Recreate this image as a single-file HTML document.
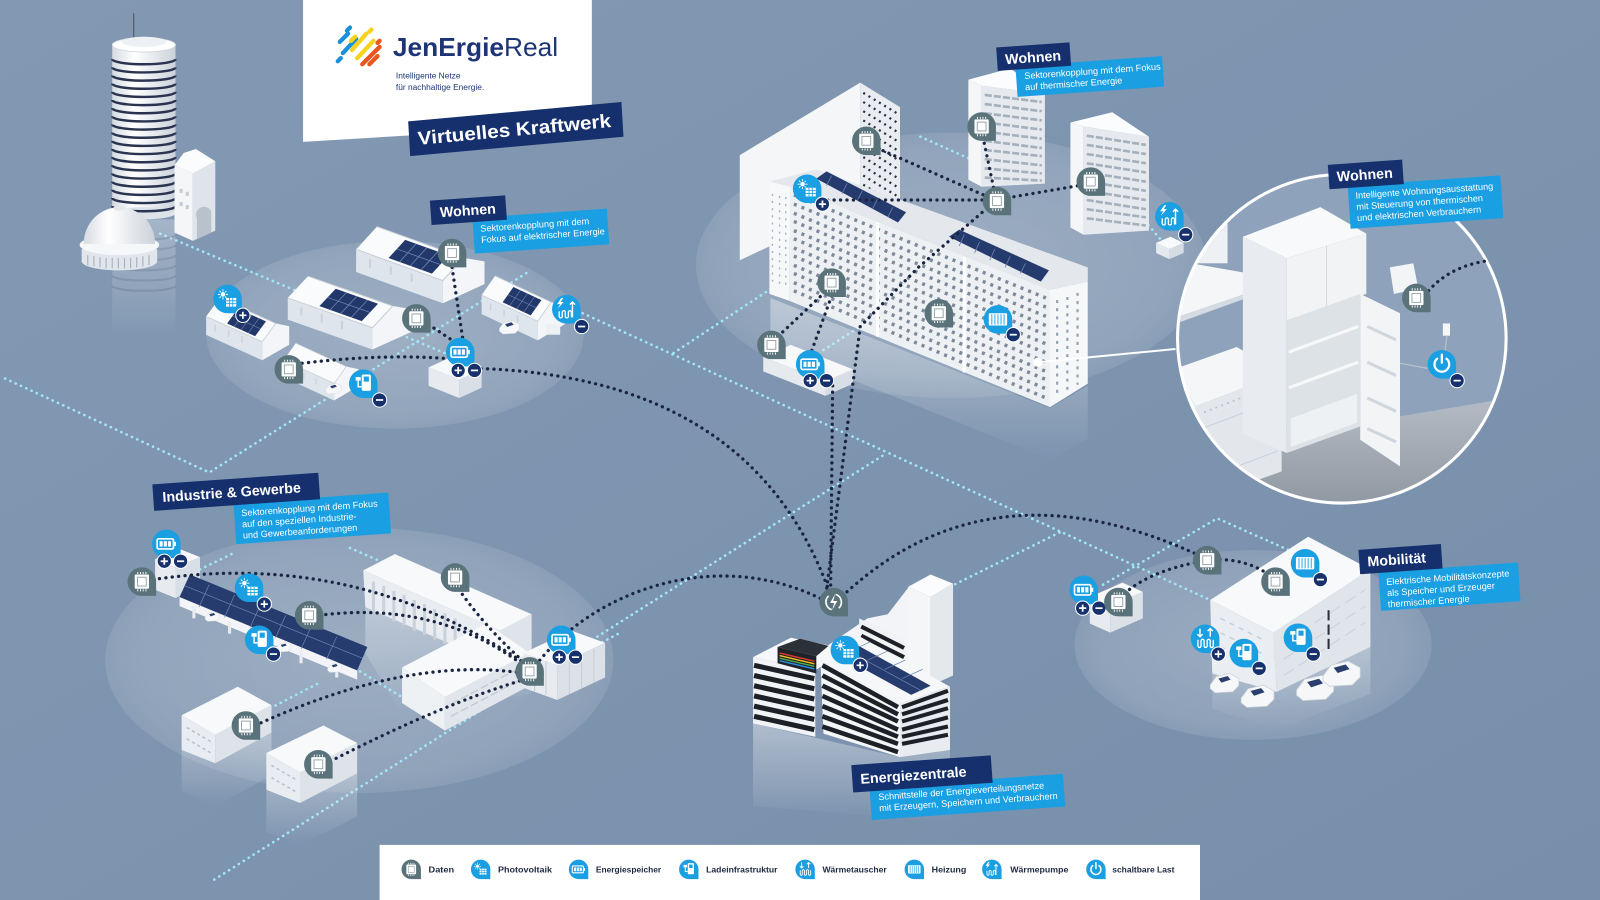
<!DOCTYPE html>
<html><head><meta charset="utf-8"><title>Virtuelles Kraftwerk</title>
<style>
html,body{margin:0;padding:0;background:#7f95b0;}
svg{display:block;}
text{font-family:"Liberation Sans",Arial,sans-serif;}
.nt{fill:#fff;font-weight:bold;font-size:14px;}
.bt{fill:#fff;font-size:9px;}
.lg{fill:#1c2740;font-size:8.4px;font-weight:bold;}
.cy{fill:none;stroke:#a2e6f8;stroke-width:2.6;stroke-dasharray:0.1 5.6;stroke-linecap:round;}
.dk{fill:none;stroke:#1a2542;stroke-width:3.2;stroke-dasharray:0.1 6.2;stroke-linecap:round;}
</style></head>
<body>
<svg width="1600" height="900" viewBox="0 0 1568 882" preserveAspectRatio="none" xmlns="http://www.w3.org/2000/svg">
<defs>
 <linearGradient id="bg" x1="0" y1="0" x2="1" y2="1">
  <stop offset="0" stop-color="#8399b3"/><stop offset="1" stop-color="#788fab"/>
 </linearGradient>
 <radialGradient id="plat" cx="0.5" cy="0.5" r="0.5">
  <stop offset="0" stop-color="#fff" stop-opacity="0.24"/>
  <stop offset="0.85" stop-color="#fff" stop-opacity="0.15"/>
  <stop offset="1" stop-color="#fff" stop-opacity="0.10"/>
 </radialGradient>
 <linearGradient id="refl" x1="0" y1="0" x2="0" y2="1">
  <stop offset="0" stop-color="#eef1f4" stop-opacity="0.75"/>
  <stop offset="1" stop-color="#eef1f4" stop-opacity="0"/>
 </linearGradient>
 <linearGradient id="tw" x1="0" x2="1">
  <stop offset="0" stop-color="#d6dbe2"/><stop offset="0.35" stop-color="#ffffff"/><stop offset="1" stop-color="#cbd2da"/>
 </linearGradient>
 <linearGradient id="floor" x1="0" y1="0" x2="0" y2="1">
  <stop offset="0" stop-color="#b4bbc4"/><stop offset="1" stop-color="#8e96a0"/>
 </linearGradient>
 <clipPath id="cc"><circle cx="1315" cy="332" r="161"/></clipPath>

 <path id="pinshape" d="M-14,0 A14,14 0 0 1 14,0 L14,14 L0,14 A14,14 0 0 1 -14,0 Z"/>
 <g id="pinB"><use href="#pinshape" fill="#1a9fe2"/></g>
 <g id="dat">
  <use href="#pinshape" fill="#5a737b"/>
  <rect x="-7" y="-7" width="14" height="14" fill="#fff" rx="1"/>
  <rect x="-4.3" y="-4.3" width="8.6" height="8.6" fill="none" stroke="#8da0a6" stroke-width="0.9"/>
  <path d="M-4,-9.5v2M-1.3,-9.5v2M1.3,-9.5v2M4,-9.5v2M-4,7.5v2M-1.3,7.5v2M1.3,7.5v2M4,7.5v2" stroke="#fff" stroke-width="0.9"/>
 </g>
 <g id="g-pv">
  <circle cx="-4.5" cy="-4.5" r="2.2" fill="#fff"/>
  <path d="M-4.5,-9.5v2.2M-4.5,-1.8v2.2M-9.5,-4.5h2.2M-1.8,-4.5h2.2M-8,-8l1.5,1.5M-2.5,-2.5l1.3,1.3M-8,-1l1.5,-1.5M-2.5,-6.5l1.3,-1.3" stroke="#fff" stroke-width="0.9"/>
  <rect x="-1.5" y="-1" width="10" height="8.5" fill="#fff"/>
  <path d="M1.8,-1v8.5M5.1,-1v8.5M-1.5,1.8h10M-1.5,4.6h10" stroke="#1a9fe2" stroke-width="0.8"/>
 </g>
 <g id="g-bat">
  <rect x="-9" y="-5" width="16" height="10" rx="1.5" fill="none" stroke="#fff" stroke-width="1.6"/>
  <rect x="7.4" y="-2" width="2" height="4" fill="#fff"/>
  <rect x="-6.6" y="-2.6" width="3" height="5.2" fill="#fff"/>
  <rect x="-2.5" y="-2.6" width="3" height="5.2" fill="#fff"/>
  <rect x="1.6" y="-2.6" width="3" height="5.2" fill="#fff"/>
 </g>
 <g id="g-chg">
  <rect x="-1.5" y="-9" width="9" height="16" rx="1.5" fill="#fff"/>
  <rect x="0.5" y="-7" width="5" height="5" fill="#1a9fe2"/>
  <path d="M-1.5,3 H-5 V-3" fill="none" stroke="#fff" stroke-width="1.4"/>
  <path d="M-7.5,-6.5 h5 v3.5 h-5z" fill="#fff"/>
 </g>
 <g id="g-hx">
  <path d="M-5,-10v8M-7.5,-4.5l2.5,2.5l2.5,-2.5M5,-2v-8M2.5,-7.5l2.5,-2.5l2.5,2.5" stroke="#fff" stroke-width="1.4" fill="none"/>
  <path d="M-7,1v6a1.5,1.5 0 0 0 3,0v-5a1.5,1.5 0 0 1 3,0v5a1.5,1.5 0 0 0 3,0v-5a1.5,1.5 0 0 1 3,0v5a1.5,1.5 0 0 0 3,0v-6" stroke="#fff" stroke-width="1.3" fill="none"/>
 </g>
 <g id="g-heat">
  <rect x="-9" y="-6" width="18" height="12" rx="1" fill="#fff"/>
  <path d="M-6,-5v10M-3,-5v10M0,-5v10M3,-5v10M6,-5v10" stroke="#1a9fe2" stroke-width="0.9"/>
 </g>
 <g id="g-hp">
  <path d="M-5,-11 l-4,6 h3 l-2.5,4.5 l6,-6.5 h-3 l2.5,-4z" fill="#fff"/>
  <path d="M-7,2v5a1.5,1.5 0 0 0 3,0v-4a1.5,1.5 0 0 1 3,0v4a1.5,1.5 0 0 0 3,0v-4a1.5,1.5 0 0 1 3,0v5" stroke="#fff" stroke-width="1.3" fill="none"/>
  <path d="M6,8v-15M3.5,-4.5l2.5,-2.5l2.5,2.5" stroke="#fff" stroke-width="1.4" fill="none"/>
 </g>
 <g id="g-pow">
  <path d="M-4.5,-5.5 A7.2,7.2 0 1 0 4.5,-5.5" fill="none" stroke="#fff" stroke-width="2.2" stroke-linecap="round"/>
  <path d="M0,-9.5v8" stroke="#fff" stroke-width="2.2" stroke-linecap="round"/>
 </g>
 <g id="plus"><circle r="7" fill="#17316d" stroke="#fff" stroke-width="1"/><path d="M-3.5,0h7M0,-3.5v7" stroke="#fff" stroke-width="1.7"/></g>
 <g id="minus"><circle r="7" fill="#17316d" stroke="#fff" stroke-width="1"/><path d="M-3.5,0h7" stroke="#fff" stroke-width="1.7"/></g>

 <g id="house">
  <polygon points="0,24 50,46 50,62 0,40" fill="#dfe5ec"/>
  <polygon points="50,62 50,46 62,30 74,32.5 74,48.5" fill="#f3f5f8"/>
  <polygon points="12,8 62,30 50,46 0,24" fill="#fafbfc"/>
  <path d="M12,8 L62,30 M0,24 L50,46 L62,30" stroke="#c6cdd6" stroke-width="0.7" fill="none"/>
  <path d="M8,37v-6M20,42v-6M32,47v-6" stroke="#cbd2db" stroke-width="1.2"/>
 </g>
 <g id="hpanel">
  <polygon points="18.7,30.1 43.7,41.1 53.3,28.3 28.3,17.3" fill="#22386a"/>
  <path d="M31.2,35.6 L40.8,22.8 M23.5,23.7 L48.5,34.7 M25,32.9 L34.6,20.1 M37.5,38.4 L47.1,25.6" stroke="#6a80ad" stroke-width="0.55"/>
 </g>
 <g id="car">
  <path d="M2,14 L8,6 L21,3 L30,8 L30,15 L24,21 L7,22 L2,18Z" fill="#f5f7f9" stroke="#c9d0d8" stroke-width="0.6"/>
  <polygon points="10,8 19,5.5 22,9 13,12" fill="#2b3f6f"/>
 </g>
</defs>

<!-- background -->
<rect width="1568" height="882" fill="url(#bg)"/>

<!-- platforms -->
<ellipse cx="387" cy="328" rx="185" ry="92" fill="url(#plat)"/>
<ellipse cx="932" cy="260" rx="250" ry="130" fill="url(#plat)"/>
<ellipse cx="352" cy="647" rx="249" ry="130" fill="url(#plat)"/>
<ellipse cx="1228" cy="632" rx="175" ry="93" fill="url(#plat)"/>

<!-- cyan floor lines -->
<path class="cy" d="M5,371 L205,463 L520,265"/>
<path class="cy" d="M157,229 L450,352"/>
<path class="cy" d="M571,307 L1186,588"/>
<path class="cy" d="M660,346 L760,280"/>
<path class="cy" d="M807,343 L843,320"/>
<path class="cy" d="M210,862 L869,444"/>
<path class="cy" d="M931,575 L1040,521"/>
<path class="cy" d="M196,558 L229,542 M343,537 L384,555 M353,658 L392,682 M265,694 L315,668 M585,632 L608,620"/>
<path class="cy" d="M1081,573 L1193,508 L1265,540"/>
<path class="cy" d="M902,134 L951,156 M1118,212 L1142,240"/>

<!-- ===== Jena tower, dome, gate ===== -->
<rect x="110" y="215" width="62" height="115" fill="url(#refl)" opacity="0.45"/>
<path d="M110,230A31,5 0 0 0 172,230M110,240A31,5 0 0 0 172,240M110,250A31,5 0 0 0 172,250M110,260A31,5 0 0 0 172,260M110,270A31,5 0 0 0 172,270M110,280A31,5 0 0 0 172,280" stroke="#2a3450" stroke-width="2" fill="none" opacity="0.15"/>
<line x1="131" y1="13" x2="131" y2="40" stroke="#5a6270" stroke-width="1.3"/>
<rect x="110" y="44" width="62" height="165" fill="url(#tw)"/>
<ellipse cx="141" cy="209" rx="31" ry="6" fill="#dde2e8"/>
<path d="M110,58A31,5 0 0 0 172,58M110,66A31,5 0 0 0 172,66M110,74A31,5 0 0 0 172,74M110,82A31,5 0 0 0 172,82M110,90A31,5 0 0 0 172,90M110,98A31,5 0 0 0 172,98M110,106A31,5 0 0 0 172,106M110,114A31,5 0 0 0 172,114M110,122A31,5 0 0 0 172,122M110,130A31,5 0 0 0 172,130M110,138A31,5 0 0 0 172,138M110,146A31,5 0 0 0 172,146M110,154A31,5 0 0 0 172,154M110,162A31,5 0 0 0 172,162M110,170A31,5 0 0 0 172,170M110,178A31,5 0 0 0 172,178M110,186A31,5 0 0 0 172,186M110,194A31,5 0 0 0 172,194M110,202A31,5 0 0 0 172,202" stroke="#2a3450" stroke-width="2.4" fill="none"/>
<ellipse cx="141" cy="44" rx="31" ry="7" fill="#fff" stroke="#d2d8df" stroke-width="0.8"/>
<ellipse cx="141" cy="41" rx="22" ry="5" fill="#eef1f4"/>
<!-- gate tower -->
<polygon points="171,162 189,170 189,236 171,228" fill="#f4f6f8"/>
<polygon points="189,170 211,158 211,226 189,236" fill="#dfe4ea"/>
<polygon points="171,162 180,150 192,146 211,158 189,170" fill="#fbfcfd"/>
<path d="M193,234 L193,214 A7,7 0 0 1 207,207 L207,228Z" fill="#b9c2cc"/>
<rect x="176" y="185" width="3" height="4" fill="#c5ccd5"/><rect x="182" y="188" width="3" height="4" fill="#c5ccd5"/>
<rect x="176" y="198" width="3" height="4" fill="#c5ccd5"/><rect x="182" y="201" width="3" height="4" fill="#c5ccd5"/>
<!-- dome -->
<path d="M80,244 L80,256 A37,9 0 0 0 154,256 L154,244 Z" fill="#e1e6ec"/>
<path d="M86,250v10M92,251v10M98,252v10M104,253v10M110,253v10M116,253v10M122,253v10M128,253v10M134,252v10M140,251v10M146,250v10" stroke="#aab4c0" stroke-width="1.2"/>
<ellipse cx="117" cy="240" rx="39" ry="10" fill="#f5f7f9"/>
<path d="M82,239 A35,36 0 0 1 152,239 Z" fill="url(#tw)"/>
<ellipse cx="117" cy="204" rx="6" ry="2.5" fill="#e3e8ed"/>

<!-- ===== logo box ===== -->
<polygon points="297,0 580,0 580,122 297,139" fill="#ffffff"/>
<g stroke-linecap="round" stroke-width="4.2" fill="none">
 <path d="M333,41 L341,33 M336,52 L349,38 M331,60 L334,57" stroke="#1b8fd8"/>
 <path d="M345,49 L359,33 M350,57 L366,40 M344,40 L348,36 M362,31 L364,29" stroke="#f6d21d"/>
 <path d="M355,63 L372,46 M362,63 L370,55 M370,42 L372,40" stroke="#e8571f"/>
 <path d="M340,30 L343,27" stroke="#1b8fd8"/>
</g>
<text x="385" y="55" font-size="25" fill="#1d3576" textLength="162" lengthAdjust="spacingAndGlyphs"><tspan font-weight="bold">JenErgie</tspan><tspan>Real</tspan></text>
<text x="388" y="77" font-size="8.2" fill="#1d3576">Intelligente Netze</text>
<text x="388" y="88" font-size="8.2" fill="#1d3576">für nachhaltige Energie.</text>
<polygon points="400,119 609,100 611,134 402,153" fill="#16306e"/>
<text x="410" y="142" font-size="18.5" font-weight="bold" fill="#fff" transform="rotate(-5.3 410 142)" textLength="190" lengthAdjust="spacingAndGlyphs">Virtuelles Kraftwerk</text>

<!-- ===== houses cluster ===== -->
<g transform="translate(349,211) scale(1.7,1.39)"><use href="#house"/><use href="#hpanel"/></g>
<g transform="translate(282,260) scale(1.66,1.33)"><use href="#house"/><use href="#hpanel"/></g>
<g transform="translate(202,283) scale(1.1,1.13)"><use href="#house"/><use href="#hpanel"/></g>
<g transform="translate(472,261) scale(1.1,1.17)"><use href="#house"/><use href="#hpanel"/></g>
<g transform="translate(278,328) scale(0.99,1.04)"><use href="#house"/></g>
<polygon points="420,360 442,350 472,362 450,372" fill="#f6f8fa"/>
<polygon points="420,360 450,372 450,390 420,378" fill="#e7ebf0"/>
<polygon points="450,372 472,362 472,380 450,390" fill="#d9dfe6"/>
<g transform="translate(488,312) scale(0.7)"><use href="#car"/></g>
<g transform="translate(318,374) scale(0.55)"><use href="#car"/></g>
<rect x="535" y="318" width="14" height="10" fill="#eef1f4"/>

<!-- ===== big residential complex ===== -->
<polygon points="755,292 1029,400 1066,378 1066,430 1029,450 755,340" fill="url(#refl)" opacity="0.6"/>
<polygon points="725,152 843,81 843,200 725,255" fill="#f4f6f8"/>
<polygon points="843,81 882,105 882,215 843,195" fill="#e9edf1"/>
<path d="M846,91L879,111M846,100L879,120M846,109L879,129M846,118L879,138M846,127L879,147M846,136L879,156M846,145L879,165M846,154L879,174M846,163L879,183M846,172L879,192M846,181L879,201" stroke="#2c313b" stroke-width="2.2" stroke-dasharray="2 4"/>
<!-- towers right -->
<polygon points="949,78 962,84 962,183 949,176" fill="#f4f6f8"/>
<polygon points="962,84 1024,92 1024,180 962,183" fill="#e6eaef"/>
<polygon points="949,78 990,67 1024,92 962,84" fill="#fbfcfd"/>
<path d="M965,93L1021,100M965,102L1021,109M965,111L1021,118M965,120L1021,127M965,129L1021,136M965,138L1021,145M965,147L1021,153M965,156L1021,162M965,165L1021,170M965,174L1021,177" stroke="#a5b0bd" stroke-width="2.6" stroke-dasharray="7 2"/>
<polygon points="1049,120 1062,124 1062,230 1049,223" fill="#f4f6f8"/>
<polygon points="1062,124 1126,134 1126,226 1062,230" fill="#e6eaef"/>
<polygon points="1049,120 1090,110 1126,134 1062,124" fill="#fbfcfd"/>
<path d="M1065,133L1123,142M1065,142L1123,151M1065,151L1123,160M1065,160L1123,169M1065,169L1123,178M1065,178L1123,187M1065,187L1123,196M1065,196L1123,205M1065,205L1123,213M1065,214L1123,221" stroke="#a5b0bd" stroke-width="2.6" stroke-dasharray="7 2"/>
<polygon points="1133,238 1147,232 1160,238 1146,244" fill="#f7f9fa"/>
<polygon points="1133,238 1146,244 1146,254 1133,248" fill="#e4e9ee"/>
<polygon points="1146,244 1160,238 1160,248 1146,254" fill="#d6dce3"/>
<!-- slab -->
<polygon points="754,178 800,166 1066,262 1066,276 1029,284 774,183" fill="#e4e8ed"/>
<polygon points="754,178 774,183 774,295 754,288" fill="#f7f8fa"/>
<polygon points="774,183 1029,284 1029,399 774,295" fill="#eef1f4"/>
<polygon points="1029,284 1066,276 1066,376 1029,399" fill="#f6f7f9"/>
<path d="M778,191L1025,292M778,200L1025,301M778,209L1025,310M778,217L1025,319M778,226L1025,328M778,234L1025,337M778,243L1025,346M778,251L1025,355M778,260L1025,364M778,268L1025,372M778,277L1025,381M778,285L1025,390" stroke="#7f8a98" stroke-width="3.4" stroke-dasharray="3 5"/>
<path d="M757,190v90M764,192v90M770,193v90" stroke="#a9b2bd" stroke-width="1.4" stroke-dasharray="2 5"/>
<path d="M1036,294v95M1046,291v92M1056,287v90" stroke="#9aa4b0" stroke-width="2.2" stroke-dasharray="3 5"/>
<path d="M860,218v112M945,252v113" stroke="#ffffff" stroke-width="3"/>
<polygon points="800,175 810,168 888,208 880,218" fill="#253b6d"/>
<polygon points="930,232 940,225 1028,265 1020,276" fill="#253b6d"/>
<path d="M815,172L810,182M830,180L825,190M845,187L840,197M860,195L855,205M875,203L870,213M945,230L940,241M960,237L955,248M975,244L970,255M990,251L985,262M1005,258L1000,268" stroke="#6b81ae" stroke-width="0.8"/>
<!-- small battery unit -->
<polygon points="748,350 775,338 836,362 809,374" fill="#f6f8fa"/>
<polygon points="748,350 809,374 809,388 748,364" fill="#e6eaef"/>
<polygon points="809,374 836,362 836,376 809,388" fill="#d8dee5"/>
<!-- connector to circle -->
<line x1="1017" y1="355" x2="1152" y2="342" stroke="#fff" stroke-width="2"/>
<circle cx="1017" cy="355" r="4.5" fill="#fff"/>

<!-- ===== right circle (kitchen) ===== -->
<g clip-path="url(#cc)">
 <rect x="1150" y="168" width="330" height="330" fill="#8ea3bb"/>
 <polygon points="1150,440 1300,420 1480,390 1480,500 1150,500" fill="url(#floor)"/>
 <rect x="1163" y="168" width="40" height="90" fill="#eef1f4"/>
 <polygon points="1150,255 1241,271 1241,281 1150,312" fill="#f4f6f8"/>
 <polygon points="1150,312 1241,281 1241,285 1150,318" fill="#d5dbe2"/>
 <polygon points="1150,362 1212,340 1256,366 1172,398" fill="#f5f6f8"/>
 <polygon points="1172,398 1256,366 1256,462 1172,492" fill="#e3e7eb"/>
 <polygon points="1150,362 1172,398 1172,492 1150,470" fill="#eef1f4"/>
 <path d="M1180,404L1250,377" stroke="#b9c1ca" stroke-width="1.6" stroke-dasharray="2 4"/>
 <path d="M1178,420L1252,392M1178,470L1252,442" stroke="#c8cfd7" stroke-width="1"/>
 <polygon points="1218,232 1261,253 1261,444 1218,425" fill="#e8ebef"/>
 <polygon points="1218,232 1294,203 1339,229 1261,253" fill="#f8f9fa"/>
 <polygon points="1261,253 1339,229 1339,288 1261,314" fill="#f1f3f5"/>
 <line x1="1300" y1="241" x2="1300" y2="301" stroke="#d3d9df" stroke-width="1"/>
 <polygon points="1261,314 1333,288 1333,418 1261,444" fill="#dde2e7"/>
 <path d="M1263,345L1331,320M1263,380L1331,355" stroke="#f7f8fa" stroke-width="3"/>
 <polygon points="1265,410 1330,386 1330,414 1265,438" fill="#eef1f4"/>
 <polygon points="1333,288 1372,307 1372,457 1333,431" fill="#f2f4f6"/>
 <path d="M1340,320L1368,333M1340,355L1368,368M1340,390L1368,403M1340,420L1368,433" stroke="#d0d6dd" stroke-width="3"/>
 <polygon points="1362,262 1385,258 1390,283 1366,288" fill="#f2f4f6"/>
 <rect x="1414" y="317" width="7" height="12" fill="#f4f6f8"/>
 <path d="M1418,329 L1416,345 M1372,356 L1399,361" stroke="#b7c0ca" stroke-width="1.2" fill="none"/>
</g>
<circle cx="1315" cy="332" r="161" fill="none" stroke="#fff" stroke-width="3"/>

<!-- ===== industry ===== -->
<polygon points="358,595 490,650 521,636 521,680 394,700 358,640" fill="url(#refl)" opacity="0.55"/>
<polygon points="152,548 176,538 196,546 172,556" fill="#f7f9fa"/>
<polygon points="152,548 172,556 172,586 152,578" fill="#e7ebf0"/>
<polygon points="172,556 196,546 196,576 172,586" fill="#d9dfe6"/>
<polygon points="176,585 350,657 350,666 176,594" fill="#f2f4f7"/>
<path d="M190,594v12M225,609v12M260,623v12M295,638v12M330,652v12" stroke="#e9edf1" stroke-width="3"/>
<polygon points="186,563 360,634 350,657 176,585" fill="#263c6e"/>
<path d="M181,574L355,645M205,573L195,595M230,583L220,605M255,593L245,615M280,603L270,625M305,614L295,636M330,624L320,646" stroke="#6e84b0" stroke-width="0.7"/>
<g transform="translate(200,598) scale(0.5)"><use href="#car"/></g>
<g transform="translate(270,628) scale(0.5)"><use href="#car"/></g>
<g transform="translate(320,648) scale(0.5)"><use href="#car"/></g>
<polygon points="356,559 387,543 521,602 490,618" fill="#f8f9fb"/>
<polygon points="356,559 490,618 490,652 358,595" fill="#e9edf1"/>
<path d="M366,570v30M376,574v30M386,579v30M396,583v30M406,588v30M416,592v30M426,597v30M436,601v30M446,606v30" stroke="#c9d1da" stroke-width="3"/>
<polygon points="490,618 521,602 521,636 490,652" fill="#dfe4ea"/>
<polygon points="394,654 477,611 519,640 436,683" fill="#f8f9fb"/>
<polygon points="394,654 436,683 436,716 394,689" fill="#eef1f4"/>
<polygon points="436,683 519,640 519,672 436,716" fill="#e1e6ec"/>
<path d="M442,690L514,652M442,702L514,664" stroke="#c4ccd6" stroke-width="1.5" stroke-dasharray="8 3"/>
<polygon points="513,640 560,618 593,630 546,652" fill="#f7f9fa"/>
<polygon points="513,640 546,652 546,686 513,674" fill="#e7ebf0"/>
<polygon points="546,652 593,630 593,664 546,686" fill="#dbe1e7"/>
<path d="M558,647v33M570,641v33M582,636v33M524,644v33M535,648v33" stroke="#c5cdd6" stroke-width="1"/>
<polygon points="178,735 211,748 266,718 266,760 211,790 178,775" fill="url(#refl)" opacity="0.5"/>
<polygon points="178,701 233,673 266,691 211,720" fill="#f8f9fb"/>
<polygon points="178,701 211,720 211,748 178,735" fill="#e9edf1"/>
<polygon points="211,720 266,691 266,718 211,748" fill="#dde3e9"/>
<path d="M183,713L207,727M183,724L207,738" stroke="#b7c0cb" stroke-width="1.5" stroke-dasharray="3 3"/>
<polygon points="261,774 294,787 350,758 350,800 294,828 261,815" fill="url(#refl)" opacity="0.5"/>
<polygon points="261,738 317,711 350,728 294,757" fill="#f8f9fb"/>
<polygon points="261,738 294,757 294,787 261,774" fill="#e9edf1"/>
<polygon points="294,757 350,728 350,758 294,787" fill="#dde3e9"/>
<path d="M266,750L290,764M266,762L290,776" stroke="#b7c0cb" stroke-width="1.5" stroke-dasharray="3 3"/>

<!-- ===== Energiezentrale ===== -->
<polygon points="738,709 882,742 931,735 931,805 738,790" fill="url(#refl)" opacity="0.6"/>
<polygon points="812,632 850,606 870,602 890,576 912,585 912,700 812,700" fill="#f2f4f7"/>
<polygon points="890,575 912,563 934,572 912,585" fill="#fbfcfd"/>
<polygon points="890,575 912,585 912,672 890,662" fill="#f4f6f8"/>
<polygon points="912,585 934,572 934,662 912,672" fill="#e3e8ed"/>
<polygon points="842,606 888,628 888,664 842,644" fill="#f0f2f5"/>
<path d="M844,614L886,635M844,623L886,644M844,632L886,653M844,641L886,661" stroke="#1d2027" stroke-width="4"/>
<polygon points="738,644 775,625 830,636 799,657" fill="#f6f8fa"/>
<polygon points="738,644 799,657 799,722 738,709" fill="#f1f3f6"/>
<path d="M739,652L798,665M739,662L798,675M739,672L798,685M739,682L798,695M739,692L798,705M739,702L798,715" stroke="#1d2027" stroke-width="5"/>
<polygon points="762,634 784,626 812,633 800,643" fill="#2c3039"/>
<polygon points="762,634 800,643 800,660 762,650" fill="#1f2229"/>
<path d="M764,640L798,648" stroke="#e23b2e" stroke-width="1.4"/>
<path d="M764,642.5L798,650.5" stroke="#f3c21c" stroke-width="1.4"/>
<path d="M764,645L798,653" stroke="#4caf50" stroke-width="1.4"/>
<path d="M764,647.5L798,655.5" stroke="#2a8fe0" stroke-width="1.4"/>
<polygon points="804,647 843,624 931,673 882,689" fill="#f5f7f9"/>
<polygon points="804,647 882,689 882,742 807,719" fill="#f3f5f7"/>
<path d="M806,652L880,693M806,662L880,700M806,672L880,707M806,682L880,715M806,692L880,722M806,702L880,729M806,712L880,737" stroke="#1d2027" stroke-width="4.5"/>
<polygon points="882,689 931,673 931,735 882,742" fill="#e8ecf0"/>
<path d="M884,693L929,677M884,700L929,686M884,707L929,694M884,715L929,703M884,722L929,712M884,729L929,720" stroke="#1d2027" stroke-width="4"/>
<polygon points="818,640 838,631 912,672 893,681" fill="#263c6e"/>
<path d="M833,638L853,629M850,647L870,638M867,656L887,647M884,665L904,656M828,636L903,677" stroke="#6e84b0" stroke-width="0.7"/>

<!-- ===== mobility ===== -->
<polygon points="1068,585 1100,571 1120,580 1088,594" fill="#f7f9fa"/>
<polygon points="1068,585 1088,594 1088,620 1068,611" fill="#e7ebf0"/>
<polygon points="1088,594 1120,580 1120,606 1088,620" fill="#dbe1e7"/>
<polygon points="1188,660 1251,678 1343,634 1343,680 1251,715 1188,695" fill="url(#refl)" opacity="0.5"/>
<polygon points="1186,588 1282,526 1343,558 1248,620" fill="#f7f9fb"/>
<polygon points="1186,588 1248,620 1251,678 1188,660" fill="#eaeef2"/>
<polygon points="1248,620 1343,558 1343,634 1251,678" fill="#e0e5eb"/>
<path d="M1196,606L1240,628M1196,620L1240,642M1196,634L1240,656" stroke="#c7cfd8" stroke-width="1.5" stroke-dasharray="5 5"/>
<path d="M1302,598v10M1302,612v10M1302,626v10" stroke="#2a2f38" stroke-width="2"/>
<path d="M1258,630L1338,578M1258,646L1338,594M1258,662L1338,610" stroke="#cdd4dc" stroke-width="1.2" stroke-dasharray="12 6"/>
<g transform="translate(1184,657)"><use href="#car"/></g>
<g transform="translate(1214,668) scale(1.15)"><use href="#car"/></g>
<g transform="translate(1268,658) scale(1.3)"><use href="#car"/></g>
<g transform="translate(1294,644) scale(1.3)"><use href="#car"/></g>

<!-- ===== dark dotted connections ===== -->
<path class="dk" d="M443,262 L455,342"/>
<path class="dk" d="M296,356 Q380,346 445,352"/>
<path class="dk" d="M420,318 L447,336"/>
<path class="dk" d="M465,361 Q735,368 812,578"/>
<path class="dk" d="M848,140 L975,196 M962,128 L975,190 M975,196 L1068,180 M975,196 L808,196"/>
<path class="dk" d="M972,200 L900,262 L843,320 L810,578"/>
<path class="dk" d="M816,378 L814,578"/>
<path class="dk" d="M813,282 L760,332"/>
<path class="dk" d="M815,290 L795,345"/>
<path class="dk" d="M150,568 Q350,538 517,652"/>
<path class="dk" d="M313,603 Q430,588 517,655"/>
<path class="dk" d="M446,572 Q472,612 517,652"/>
<path class="dk" d="M250,711 Q400,642 515,660"/>
<path class="dk" d="M318,749 Q432,690 517,665"/>
<path class="dk" d="M525,652 C580,580 700,535 805,587"/>
<path class="dk" d="M830,580 Q975,448 1183,548"/>
<path class="dk" d="M1183,549 Q1222,545 1250,568"/>
<path class="dk" d="M1183,549 Q1120,560 1096,588"/>
<path class="dk" d="M1400,285 Q1420,262 1455,256"/>

<!-- ===== icons ===== -->
<g transform="translate(223,293)"><use href="#pinB"/><use href="#g-pv"/></g><use href="#plus" x="238" y="309"/>
<use href="#dat" x="443" y="248"/>
<use href="#dat" x="408" y="312"/>
<use href="#dat" x="283" y="362"/>
<g transform="translate(451,345)"><use href="#pinB"/><use href="#g-bat"/></g><use href="#plus" x="449" y="363"/><use href="#minus" x="465" y="363"/>
<g transform="translate(356,376)"><use href="#pinB"/><use href="#g-chg"/></g><use href="#minus" x="372" y="392"/>
<g transform="translate(555,303)"><use href="#pinB"/><use href="#g-hp"/></g><use href="#minus" x="570" y="320"/>
<use href="#dat" x="849" y="138"/>
<use href="#dat" x="962" y="124"/>
<use href="#dat" x="977" y="197"/>
<use href="#dat" x="1069" y="178"/>
<g transform="translate(791,185)"><use href="#pinB"/><use href="#g-pv"/></g><use href="#plus" x="806" y="200"/>
<use href="#dat" x="815" y="277"/>
<use href="#dat" x="920" y="307"/>
<g transform="translate(978,313)"><use href="#pinB"/><use href="#g-heat"/></g><use href="#minus" x="993" y="328"/>
<use href="#dat" x="756" y="338"/>
<g transform="translate(794,357)"><use href="#pinB"/><use href="#g-bat"/></g><use href="#plus" x="794" y="373"/><use href="#minus" x="810" y="373"/>
<g transform="translate(1146,212)"><use href="#pinB"/><use href="#g-hp"/></g><use href="#minus" x="1162" y="230"/>
<use href="#dat" x="1388" y="292"/>
<g transform="translate(1413,357)"><use href="#pinB"/><use href="#g-pow"/></g><use href="#minus" x="1428" y="373"/>
<g transform="translate(163,533)"><use href="#pinB"/><use href="#g-bat"/></g><use href="#plus" x="161" y="550"/><use href="#minus" x="177" y="550"/>
<use href="#dat" x="139" y="570"/>
<g transform="translate(244,576)"><use href="#pinB"/><use href="#g-pv"/></g><use href="#plus" x="259" y="592"/>
<use href="#dat" x="303" y="603"/>
<g transform="translate(254,627)"><use href="#pinB"/><use href="#g-chg"/></g><use href="#minus" x="268" y="641"/>
<use href="#dat" x="446" y="566"/>
<g transform="translate(550,627)"><use href="#pinB"/><use href="#g-bat"/></g><use href="#plus" x="548" y="644"/><use href="#minus" x="564" y="644"/>
<use href="#dat" x="519" y="658"/>
<use href="#dat" x="241" y="711"/>
<use href="#dat" x="312" y="749"/>
<g transform="translate(817,590)">
 <use href="#pinshape" fill="#5a737b"/>
 <path d="M-5,-6 A8,8 0 0 0 -2,7.5 M5,6 A8,8 0 0 0 2,-7.5" fill="none" stroke="#fff" stroke-width="1.6"/>
 <path d="M1.5,-8 L-3.5,1 H0.5 L-1.5,8 L3.5,-1 H-0.5Z" fill="#fff"/>
</g>
<g transform="translate(828,637)"><use href="#pinB"/><use href="#g-pv"/></g><use href="#plus" x="843" y="652"/>
<g transform="translate(1062,578)"><use href="#pinB"/><use href="#g-bat"/></g><use href="#plus" x="1061" y="596"/><use href="#minus" x="1077" y="596"/>
<use href="#dat" x="1096" y="590"/>
<use href="#dat" x="1183" y="549"/>
<use href="#dat" x="1250" y="570"/>
<g transform="translate(1279,552)"><use href="#pinB"/><use href="#g-heat"/></g><use href="#minus" x="1294" y="568"/>
<g transform="translate(1181,626)"><use href="#pinB"/><use href="#g-hx"/></g><use href="#plus" x="1194" y="641"/>
<g transform="translate(1219,640)"><use href="#pinB"/><use href="#g-chg"/></g><use href="#minus" x="1234" y="655"/>
<g transform="translate(1272,625)"><use href="#pinB"/><use href="#g-chg"/></g><use href="#minus" x="1287" y="641"/>

<!-- ===== labels ===== -->
<g transform="rotate(-4 530 226)">
 <rect x="464" y="209" width="132" height="35" fill="#1a9fe2"/>
 <text class="bt"><tspan x="471" y="223">Sektorenkopplung mit dem</tspan><tspan x="471" y="234">Fokus auf elektrischer Energie</tspan></text>
</g>
<g transform="rotate(-4 459 206)">
 <rect x="422" y="194" width="74" height="24" fill="#15306d"/>
 <text x="431" y="211" class="nt">Wohnen</text>
</g>

<g transform="rotate(-4 1068 75)">
 <rect x="996" y="60" width="144" height="30" fill="#1a9fe2"/>
 <text class="bt"><tspan x="1004" y="73">Sektorenkopplung mit dem Fokus</tspan><tspan x="1004" y="84">auf thermischer Energie</tspan></text>
</g>
<g transform="rotate(-4 1013 56)">
 <rect x="977" y="44" width="72" height="23" fill="#15306d"/>
 <text x="985" y="61" class="nt">Wohnen</text>
</g>

<g transform="rotate(-4 1397 198)">
 <rect x="1322" y="177" width="150" height="42" fill="#1a9fe2"/>
 <text class="bt"><tspan x="1329" y="190">Intelligente Wohnungsausstattung</tspan><tspan x="1329" y="201">mit Steuerung von thermischen</tspan><tspan x="1329" y="212">und elektrischen Verbrauchern</tspan></text>
</g>
<g transform="rotate(-4 1338 171)">
 <rect x="1302" y="159" width="73" height="24" fill="#15306d"/>
 <text x="1310" y="176" class="nt">Wohnen</text>
</g>

<g transform="rotate(-4 306 508)">
 <rect x="230" y="488" width="152" height="40" fill="#1a9fe2"/>
 <text class="bt"><tspan x="237" y="501">Sektorenkopplung mit dem Fokus</tspan><tspan x="237" y="512">auf den speziellen Industrie-</tspan><tspan x="237" y="523">und Gewerbeanforderungen</tspan></text>
</g>
<g transform="rotate(-4 231 482)">
 <rect x="150" y="469" width="163" height="26" fill="#15306d"/>
 <text x="159" y="487" class="nt" font-size="14.5">Industrie &amp; Gewerbe</text>
</g>

<g transform="rotate(-4 948 781)">
 <rect x="853" y="765" width="190" height="32" fill="#1a9fe2"/>
 <text class="bt"><tspan x="861" y="778">Schnittstelle der Energieverteilungsnetze</tspan><tspan x="861" y="789">mit Erzeugern, Speichern und Verbrauchern</tspan></text>
</g>
<g transform="rotate(-4 903 758)">
 <rect x="835" y="745" width="137" height="27" fill="#15306d"/>
 <text x="843" y="764" class="nt" font-size="15.5">Energiezentrale</text>
</g>

<g transform="rotate(-4 1420 575)">
 <rect x="1352" y="556" width="137" height="38" fill="#1a9fe2"/>
 <text class="bt"><tspan x="1359" y="569">Elektrische Mobilitätskonzepte</tspan><tspan x="1359" y="580">als Speicher und Erzeuger</tspan><tspan x="1359" y="591">thermischer Energie</tspan></text>
</g>
<g transform="rotate(-4 1372 548)">
 <rect x="1332" y="536" width="81" height="24" fill="#15306d"/>
 <text x="1340" y="553" class="nt">Mobilität</text>
</g>

<!-- ===== legend ===== -->
<rect x="372" y="828" width="804" height="60" fill="#ffffff"/>
<g transform="translate(403,852) scale(0.68)"><use href="#dat"/></g>
<text x="420" y="855" class="lg" textLength="25" lengthAdjust="spacingAndGlyphs">Daten</text>
<g transform="translate(471,852) scale(0.68)"><use href="#pinB"/><use href="#g-pv"/></g>
<text x="488" y="855" class="lg" textLength="53" lengthAdjust="spacingAndGlyphs">Photovoltaik</text>
<g transform="translate(567,852) scale(0.68)"><use href="#pinB"/><use href="#g-bat"/></g>
<text x="584" y="855" class="lg" textLength="64" lengthAdjust="spacingAndGlyphs">Energiespeicher</text>
<g transform="translate(675,852) scale(0.68)"><use href="#pinB"/><use href="#g-chg"/></g>
<text x="692" y="855" class="lg" textLength="70" lengthAdjust="spacingAndGlyphs">Ladeinfrastruktur</text>
<g transform="translate(789,852) scale(0.68)"><use href="#pinB"/><use href="#g-hx"/></g>
<text x="806" y="855" class="lg" textLength="63" lengthAdjust="spacingAndGlyphs">Wärmetauscher</text>
<g transform="translate(896,852) scale(0.68)"><use href="#pinB"/><use href="#g-heat"/></g>
<text x="913" y="855" class="lg" textLength="34" lengthAdjust="spacingAndGlyphs">Heizung</text>
<g transform="translate(972,852) scale(0.68)"><use href="#pinB"/><use href="#g-hp"/></g>
<text x="990" y="855" class="lg" textLength="57" lengthAdjust="spacingAndGlyphs">Wärmepumpe</text>
<g transform="translate(1074,852) scale(0.68)"><use href="#pinB"/><use href="#g-pow"/></g>
<text x="1090" y="855" class="lg" textLength="61" lengthAdjust="spacingAndGlyphs">schaltbare Last</text>
</svg>
</body></html>
